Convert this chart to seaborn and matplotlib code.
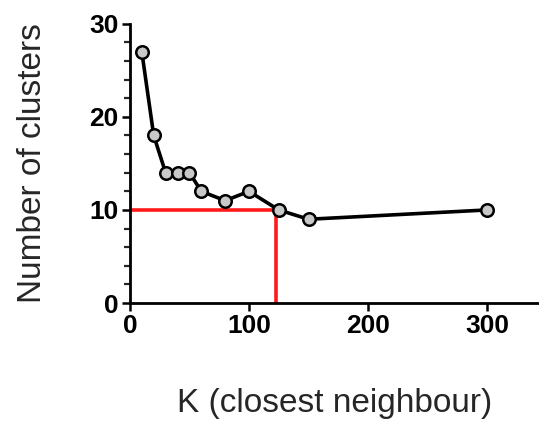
"""Number of clusters vs K (closest neighbour), with red cut-off guide."""
import matplotlib
matplotlib.use("Agg")
import matplotlib.pyplot as plt
import seaborn as sns
import pandas as pd
from matplotlib.ticker import MultipleLocator

# data
k_values = [10, 20, 30, 40, 50, 60, 80, 100, 125, 150, 300]
n_clusters = [27, 18, 14, 14, 14, 12, 11, 12, 10, 9, 10]
CUTOFF_K = 123
CUTOFF_CLUSTERS = 10
x_ticks = [0, 100, 200, 300]
y_ticks = [0, 10, 20, 30]

sns.set_style("ticks")
plt.rcParams["font.family"] = ["Liberation Sans", "DejaVu Sans"]

df = pd.DataFrame({"k": k_values, "clusters": n_clusters})

fig = plt.figure(figsize=(5.39, 4.25), dpi=100)
ax = fig.add_axes([0.241, 0.287, 0.76, 0.657])

# red guide lines
ax.plot([0, CUTOFF_K], [CUTOFF_CLUSTERS, CUTOFF_CLUSTERS], color="#ff1a1a", lw=2.6,
        zorder=2, solid_capstyle="butt", clip_on=False)
ax.plot([CUTOFF_K, CUTOFF_K], [0, CUTOFF_CLUSTERS], color="#ff1a1a", lw=2.6,
        zorder=2, solid_capstyle="butt", clip_on=False)

sns.lineplot(data=df, x="k", y="clusters", ax=ax, color="black", lw=2.6,
             marker="o", markersize=9, markerfacecolor="#c8c8c8",
             markeredgecolor="black", markeredgewidth=1.8, zorder=3, clip_on=False)

ax.set_xlim(0, 344)
ax.set_ylim(0, 30)
ax.set_xticks(x_ticks)
ax.set_yticks(y_ticks)
ax.yaxis.set_minor_locator(MultipleLocator(2))

for s in ["top", "right"]:
    ax.spines[s].set_visible(False)
for s in ["left", "bottom"]:
    ax.spines[s].set_linewidth(2)
    ax.spines[s].set_color("black")

ax.tick_params(axis="both", which="major", direction="out", length=6, width=1.8,
               labelsize=19, colors="black", pad=2)
ax.tick_params(axis="y", which="minor", direction="out", length=4, width=1.6)
for lbl in ax.get_xticklabels() + ax.get_yticklabels():
    lbl.set_fontweight("bold")

ax.set_xlabel("K (closest neighbour)", fontsize=24, labelpad=36)
ax.set_ylabel("Number of clusters", fontsize=24, labelpad=30)
ax.grid(False)

fig.savefig("out.png", dpi=100)
print("Wrote out.png")
